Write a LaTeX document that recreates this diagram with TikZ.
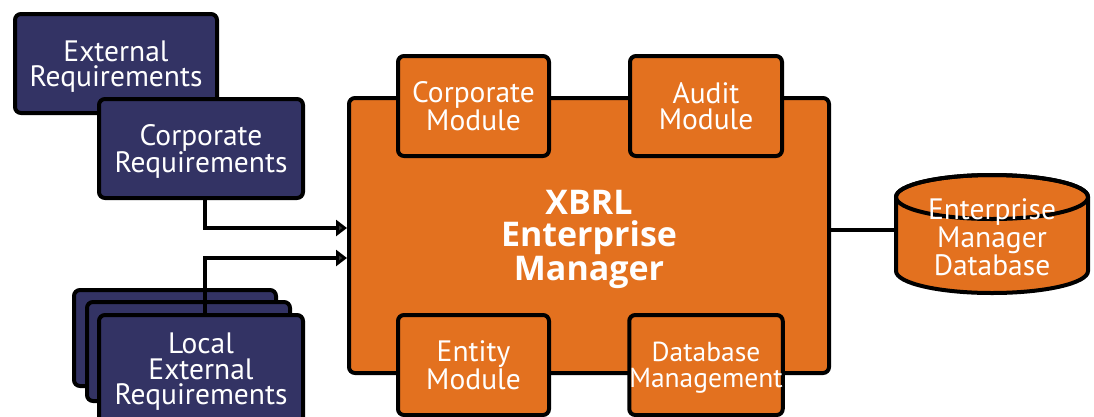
\documentclass[tikz,border=0pt]{standalone}
\usepackage{fontspec}
\newfontfamily\dfont{PT Sans}
\newfontfamily\tfont{Open Sans}
\usetikzlibrary{arrows.meta,calc}
\definecolor{navy}{RGB}{51,51,100}
\definecolor{orng}{RGB}{227,113,31}
\definecolor{tipgray}{RGB}{50,50,50}
\tikzset{
  box/.style={draw=black, line width=4pt, rounded corners=6pt, inner sep=0pt, outer sep=2pt,
    text=white, align=center, text depth=0pt, font={\dfont\fontsize{29.5}{25.5}\selectfont}},
  navybox/.style={box, fill=navy},
  orangebox/.style={box, fill=orng},
  arrowline/.style={draw=black, line width=3.5pt, -{Triangle[length=11pt,width=16pt,fill=tipgray]}},
  conn/.style={draw=black, line width=4pt},
  cyl/.style={fill=orng, draw=black, line width=4pt},
  dbtext/.style={inner sep=0pt, outer sep=2pt, minimum width=192pt, minimum height=118pt,
    text=white, align=center, text depth=0pt, font={\dfont\fontsize{29.5}{25.5}\selectfont}},
}
\begin{document}
\begin{tikzpicture}[x=1pt,y=-1pt]
\useasboundingbox (0,0) rectangle (1094,416);
\clip (0,0) rectangle (1094,416);
% requirement boxes
\node[navybox, minimum width=202pt, minimum height=99pt] (ext) at (116,63.5) {External\\Requirements};
\node[navybox, minimum width=204pt, minimum height=99pt] (corp) at (201,148.5) {Corporate\\Requirements};
\node[navybox, minimum width=202pt, minimum height=96pt] (loc3) at (175,338) {};
\node[navybox, minimum width=203pt, minimum height=99pt] (loc2) at (188.5,351.5) {};
\node[navybox, minimum width=204pt, minimum height=108pt] (loc1) at (201,369) {Local\\External\\Requirements};
% main box
\node[orangebox, minimum width=480pt, minimum height=275pt, text depth=-8pt,
  font={\tfont\bfseries\fontsize{34}{32}\selectfont}] (main) at (589,235.5) {XBRL\\Enterprise\\Manager};
% modules
\node[orangebox, minimum width=151pt, minimum height=100pt] (cmod) at (473.5,106) {Corporate\\Module};
\node[orangebox, minimum width=152pt, minimum height=100pt] (amod) at (706,106) {Audit\\Module};
\node[orangebox, minimum width=151pt, minimum height=100pt] (emod) at (473.5,365) {Entity\\Module};
\node[orangebox, minimum width=152pt, minimum height=100pt,
  font={\dfont\fontsize{27.5}{25.5}\selectfont}] (dmod) at (706,365) {Database\\Management};
% arrows
\draw[arrowline] ([xshift=4pt]corp.south) |- ([yshift=7.5pt]main.west);
\draw[arrowline] ([xshift=4pt]loc1.north) |- ([yshift=-22.5pt]main.west);
% database cylinder
\draw[cyl] (896,197) -- (896,271) arc[start angle=180, end angle=360, x radius=96pt, y radius=22pt]
  -- (1088,197) arc[start angle=0, end angle=180, x radius=96pt, y radius=22pt] -- cycle;
\draw[black, line width=4pt] (992,197) ellipse [x radius=96pt, y radius=22pt];
\node[dbtext] (db) at (992,237) {Enterprise\\Manager\\Database};
\draw[conn] ([yshift=5.5pt]main.east) -- ([yshift=5.5pt]main.east -| db.west);
\end{tikzpicture}
\end{document}
